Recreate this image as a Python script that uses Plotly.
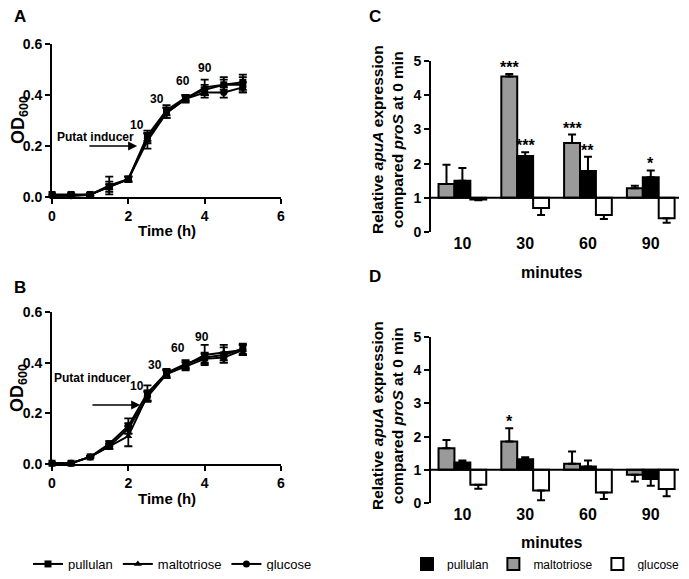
import plotly.graph_objects as go

# growth curves (panels A and B)
time_h = [0, 0.5, 1, 1.5, 2, 2.5, 3, 3.5, 4, 4.5, 5]

a_pullulan = [0.01, 0.01, 0.01, 0.04, 0.07, 0.24, 0.34, 0.39, 0.42, 0.44, 0.45]
a_maltotriose = [0.005, 0.005, 0.008, 0.045, 0.07, 0.22, 0.33, 0.385, 0.43, 0.44, 0.44]
a_glucose = [0.005, 0.005, 0.01, 0.04, 0.07, 0.23, 0.33, 0.385, 0.41, 0.41, 0.43]
a_pullulan_err = [0.005, 0.005, 0.005, 0.01, 0.01, 0.02, 0.02, 0.01, 0.02, 0.02, 0.03]
a_maltotriose_err = [0.005, 0.005, 0.005, 0.035, 0.01, 0.03, 0.02, 0.01, 0.03, 0.03, 0.03]
a_glucose_err = [0.005, 0.005, 0.005, 0.02, 0.01, 0.02, 0.02, 0.015, 0.02, 0.02, 0.02]

b_pullulan = [0.003, 0.003, 0.028, 0.08, 0.15, 0.28, 0.36, 0.395, 0.42, 0.43, 0.455]
b_maltotriose = [0.003, 0.003, 0.028, 0.07, 0.11, 0.27, 0.355, 0.39, 0.43, 0.44, 0.45]
b_glucose = [0.003, 0.003, 0.028, 0.07, 0.14, 0.265, 0.355, 0.385, 0.415, 0.42, 0.45]
b_pullulan_err = [0.002, 0.002, 0.003, 0.01, 0.03, 0.03, 0.015, 0.015, 0.02, 0.03, 0.02]
b_maltotriose_err = [0.002, 0.002, 0.003, 0.01, 0.04, 0.02, 0.015, 0.015, 0.04, 0.03, 0.02]
b_glucose_err = [0.002, 0.002, 0.003, 0.01, 0.02, 0.02, 0.015, 0.015, 0.02, 0.02, 0.02]

# time-point labels on the curves
a_mark_x = [2.23, 2.75, 3.43, 4.0]
a_mark_y = [0.282, 0.384, 0.455, 0.506]
b_mark_x = [2.23, 2.70, 3.30, 3.93]
b_mark_y = [0.308, 0.39, 0.458, 0.50]
mark_text = ["10", "30", "60", "90"]

# relative expression (panels C and D)
minutes = ["10", "30", "60", "90"]
c_maltotriose = [1.4, 4.55, 2.6, 1.28]
c_maltotriose_err = [0.57, 0.07, 0.25, 0.07]
c_pullulan = [1.5, 2.22, 1.78, 1.6]
c_pullulan_err = [0.37, 0.11, 0.42, 0.2]
c_glucose = [0.95, 0.7, 0.5, 0.4]
c_glucose_err = [0.02, 0.2, 0.12, 0.13]
c_maltotriose_sig = ["", "***", "***", ""]
c_pullulan_sig = ["", "***", "**", "*"]

d_maltotriose = [1.65, 1.85, 1.18, 0.85]
d_maltotriose_err = [0.25, 0.4, 0.37, 0.2]
d_pullulan = [1.22, 1.32, 1.1, 0.72]
d_pullulan_err = [0.06, 0.06, 0.18, 0.2]
d_glucose = [0.55, 0.38, 0.32, 0.42]
d_glucose_err = [0.12, 0.3, 0.2, 0.22]
d_maltotriose_sig = ["", "*", "", ""]
d_pullulan_sig = ["", "", "", ""]

FONT = "Arial, Liberation Sans, sans-serif"
# page body keeps its 8px default margin, so the figure is 16px smaller than the window
OFF = 8
W, H = 689 - 2 * OFF, 579 - 2 * OFF


def px_x(p):
    return (p - OFF) / W


def px_y(p):
    return 1 - (p - OFF) / H


fig = go.Figure()

# ---- line panels ----
curves = [
    ("pullulan", "square", a_pullulan, a_pullulan_err, b_pullulan, b_pullulan_err),
    ("maltotriose", "triangle-up", a_maltotriose, a_maltotriose_err, b_maltotriose, b_maltotriose_err),
    ("glucose", "circle", a_glucose, a_glucose_err, b_glucose, b_glucose_err),
]
for name, sym, ya, ea, yb, eb in curves:
    for ax, yv, ev, show in [("", ya, ea, True), ("2", yb, eb, False)]:
        fig.add_trace(go.Scatter(
            x=time_h, y=yv, name=name, mode="lines+markers",
            xaxis="x" + ax, yaxis="y" + ax,
            line=dict(color="black", width=2),
            marker=dict(symbol=sym, size=7, color="black"),
            error_y=dict(type="data", array=ev, color="black", thickness=1.8, width=4),
            cliponaxis=False, showlegend=show, legend="legend",
        ))

# ---- bar panels ----
bars = [
    ("maltotriose", "#9a9a9a", 2, c_maltotriose, c_maltotriose_err, d_maltotriose, d_maltotriose_err,
     c_maltotriose_sig, d_maltotriose_sig),
    ("pullulan", "black", 1, c_pullulan, c_pullulan_err, d_pullulan, d_pullulan_err,
     c_pullulan_sig, d_pullulan_sig),
    ("glucose", "white", 3, c_glucose, c_glucose_err, d_glucose, d_glucose_err, None, None),
]
annotations = []
for k, (name, col, rank, vc, ec, vd, ed, sc, sd) in enumerate(bars):
    for ax, vals, errs, sig, show in [("3", vc, ec, sc, True), ("4", vd, ed, sd, False)]:
        up = [e if v >= 1 else 0 for v, e in zip(vals, errs)]
        down = [e if v < 1 else 0 for v, e in zip(vals, errs)]
        fig.add_trace(go.Bar(
            x=list(range(len(minutes))), y=[v - 1 for v in vals], base=1,
            name=name, xaxis="x" + ax, yaxis="y" + ax,
            marker=dict(color=col, line=dict(color="black", width=2)),
            error_y=dict(type="data", symmetric=False, array=up, arrayminus=down,
                         color="black", thickness=2, width=4),
            showlegend=show, legend="legend2", legendrank=rank,
        ))
        if sig:
            for i, s in enumerate(sig):
                if s:
                    annotations.append(dict(
                        x=i + (k - 1) * 0.25, y=vals[i] + errs[i], xref="x" + ax, yref="y" + ax,
                        text=s, showarrow=False, xanchor="center", yanchor="bottom", yshift=-4,
                        font=dict(family=FONT, size=16, color="black", weight="bold")))

line_ax = dict(showline=True, linecolor="black", linewidth=2, ticks="outside",
               tickwidth=2, ticklen=5, tickcolor="black", showgrid=False, zeroline=False,
               tickfont=dict(family=FONT, size=14, color="black", weight="bold"))

xdom_ab = [px_x(52), px_x(281)]
xdom_cd = [px_x(431), px_x(679)]

fig.update_layout(
    width=W, height=H, margin=dict(l=0, r=0, t=0, b=0, autoexpand=False),
    plot_bgcolor="white", paper_bgcolor="white",
    barmode="group", bargap=0.24, bargroupgap=0,
    xaxis=dict(line_ax, domain=xdom_ab, range=[0, 6], tickvals=[0, 2, 4, 6], anchor="y"),
    yaxis=dict(line_ax, domain=[px_y(197), px_y(44)], range=[0, 0.6],
               tickvals=[0, 0.2, 0.4, 0.6], tickformat=".1f", anchor="x"),
    xaxis2=dict(line_ax, domain=xdom_ab, range=[0, 6], tickvals=[0, 2, 4, 6], anchor="y2"),
    yaxis2=dict(line_ax, domain=[px_y(464), px_y(312)], range=[0, 0.6],
                tickvals=[0, 0.2, 0.4, 0.6], tickformat=".1f", anchor="x2"),
    xaxis3=dict(domain=xdom_cd, range=[-0.5, 3.45], showline=False, showgrid=False,
                zeroline=False, ticks="", tickvals=[0, 1, 2, 3], ticktext=minutes,
                tickfont=dict(family=FONT, size=16, color="black", weight="bold"), anchor="y3"),
    yaxis3=dict(line_ax, domain=[px_y(232), px_y(61)], range=[0, 5],
                tickvals=[0, 1, 2, 3, 4, 5], anchor="x3"),
    xaxis4=dict(domain=xdom_cd, range=[-0.5, 3.45], showline=False, showgrid=False,
                zeroline=False, ticks="", tickvals=[0, 1, 2, 3], ticktext=minutes,
                tickfont=dict(family=FONT, size=16, color="black", weight="bold"), anchor="y4"),
    yaxis4=dict(line_ax, domain=[px_y(503), px_y(337)], range=[0, 5],
                tickvals=[0, 1, 2, 3, 4, 5], anchor="x4"),
    legend=dict(orientation="h", x=px_x(28), y=px_y(564), xanchor="left", yanchor="middle",
                font=dict(family=FONT, size=13, color="black"), itemwidth=30,
                bgcolor="rgba(0,0,0,0)", traceorder="normal"),
    legend2=dict(orientation="h", x=px_x(407), y=px_y(564), xanchor="left", yanchor="middle",
                 font=dict(family=FONT, size=12, color="black"), itemwidth=30,
                 bgcolor="rgba(0,0,0,0)"),
)

# baseline at 1 in the bar panels
for ax in ["3", "4"]:
    fig.add_shape(type="line", xref="x" + ax + " domain", yref="y" + ax,
                  x0=0, x1=1, y0=1, y1=1, line=dict(color="black", width=2))

bold = lambda s: dict(family=FONT, size=s, color="black", weight="bold")


def paper_text(x, y, text, size, angle=0):
    return dict(x=px_x(x), y=px_y(y), xref="paper", yref="paper", text=text,
                xanchor="center", yanchor="middle", textangle=angle,
                showarrow=False, font=bold(size))


# panel letters
for txt, x, y in [("A", 20, 16), ("B", 20, 287), ("C", 375, 16), ("D", 375, 276)]:
    annotations.append(paper_text(x, y, txt, 17))

# axis titles
for yc, yt in [(120, 230), (388, 498)]:
    annotations.append(paper_text(19, yc, "OD<sub>600</sub>", 18, -90))
    annotations.append(paper_text(167, yt, "Time (h)", 15))
for yc, yt in [(140, 272), (416, 542)]:
    annotations.append(paper_text(387, yc,
                                  "Relative <i>apuA</i> expression<br>compared <i>proS</i> at 0 min",
                                  15.5, -90))
    annotations.append(paper_text(551, yt, "minutes", 16))

# time-point labels and inducer arrows
for ax, mx, my, ax0, ax1, ay, tx, ty in [
    ("", a_mark_x, a_mark_y, 0.94, 2.23, 0.2, 1.15, 0.235),
    ("2", b_mark_x, b_mark_y, 1.02, 2.31, 0.233, 1.07, 0.34),
]:
    for x, y, t in zip(mx, my, mark_text):
        annotations.append(dict(x=x, y=y, xref="x" + ax, yref="y" + ax, text=t,
                                showarrow=False, font=bold(12)))
    annotations.append(dict(x=tx, y=ty, xref="x" + ax, yref="y" + ax, text="Putat inducer",
                            showarrow=False, font=bold(12)))
    annotations.append(dict(x=ax1, y=ay, ax=ax0, ay=ay, xref="x" + ax, yref="y" + ax,
                            axref="x" + ax, ayref="y" + ax, text="", showarrow=True,
                            arrowhead=2, arrowsize=1.2, arrowwidth=1.5, arrowcolor="black"))

fig.update_layout(annotations=annotations)

fig.write_html("out.html")
